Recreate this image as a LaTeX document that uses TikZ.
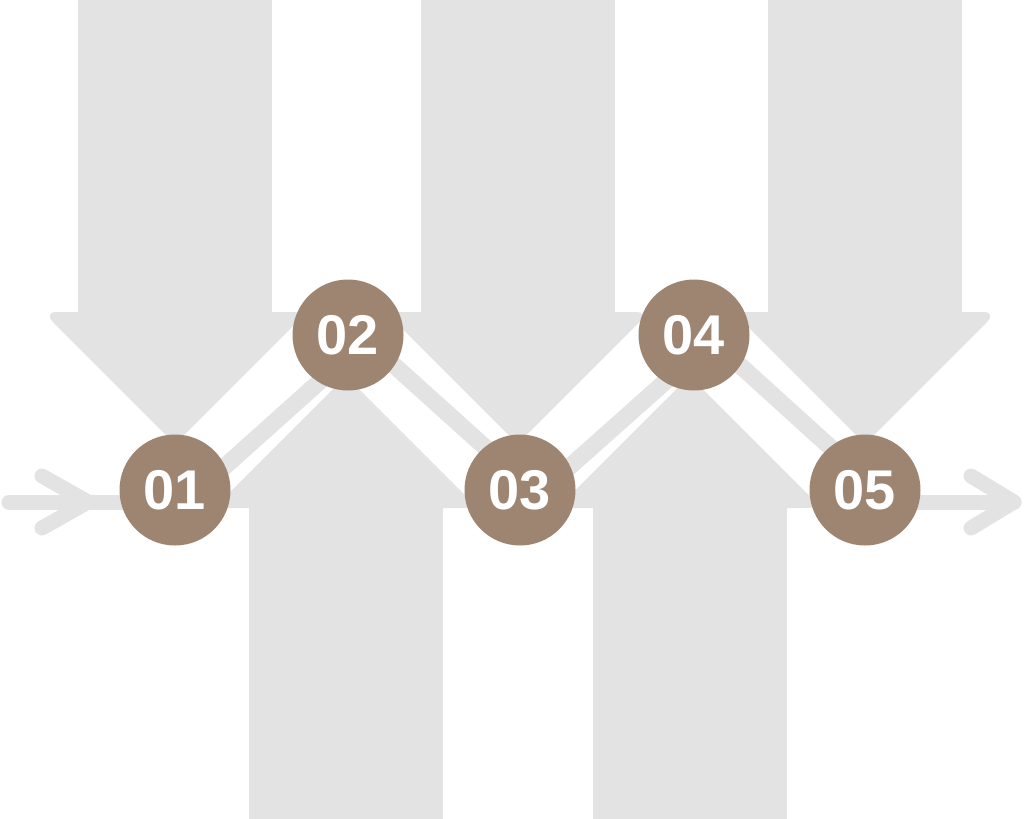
\documentclass[tikz,border=0pt]{standalone}
\usepackage{fontspec}
\setmainfont{Liberation Sans}
\usetikzlibrary{calc}
\definecolor{arrowgray}{RGB}{227,227,227}
\definecolor{dotbrown}{RGB}{158,133,114}
\pgfdeclarelayer{bg}
\pgfdeclarelayer{mid}
\pgfsetlayers{bg,mid,main}
\begin{document}
\begin{tikzpicture}[x=1pt,y=-1pt,
  shaftbox/.style={fill=arrowgray},
  headtri/.style={fill=arrowgray, rounded corners=14pt},
  band/.style={draw=arrowgray, line width=17pt, line join=round},
  flowline/.style={draw=arrowgray, line width=15pt, line cap=round, line join=round},
  stepdot/.style={circle, fill=dotbrown, minimum size=111pt, inner sep=0pt, text=white,
    font=\fontsize{56}{56}\selectfont\bfseries}]
\useasboundingbox (0,0) rectangle (1026,819);

% step circles
\node[stepdot] (s1) at (175,490) {01};
\node[stepdot] (s2) at (348,335) {02};
\node[stepdot] (s3) at (520,490) {03};
\node[stepdot] (s4) at (694,335) {04};
\node[stepdot] (s5) at (865,490) {05};

\coordinate (inL) at (9,502);
\coordinate (tipL) at (88,502);
\coordinate (armLa) at (42,476);
\coordinate (armLb) at (42,528);
\coordinate (outR) at (1014,502);
\coordinate (armRa) at (971,476);
\coordinate (armRb) at (971,528);

\begin{pgfonlayer}{bg}
  % down arrows
  \foreach \c in {175,517.5,865} {
    \fill[shaftbox] (\c-97,0) rectangle (\c+97,314);
    \fill[headtri] (\c-132,312) -- (\c+132,312) -- (\c,444) -- cycle;
  }
  % up arrows
  \foreach \u in {346,689.5} {
    \fill[shaftbox] (\u-97,506) rectangle (\u+97,819);
    \fill[headtri] (\u-132,508) -- (\u+132,508) -- (\u,376) -- cycle;
  }
\end{pgfonlayer}

\begin{pgfonlayer}{mid}
  \draw[band] ([shift={(18,5)}]s1.center) -- ([shift={(18,5)}]s2.center)
    -- ([shift={(18,5)}]s3.center) -- ([shift={(18,5)}]s4.center)
    -- ([shift={(18,5)}]s5.center);
  \draw[flowline] (inL) -- (inL -| s1.center);
  \draw[flowline] (armLa) -- (tipL) -- (armLb);
  \draw[flowline] (s5.center |- outR) -- (outR);
  \draw[flowline] (armRa) -- (outR) -- (armRb);
\end{pgfonlayer}
\end{tikzpicture}
\end{document}
